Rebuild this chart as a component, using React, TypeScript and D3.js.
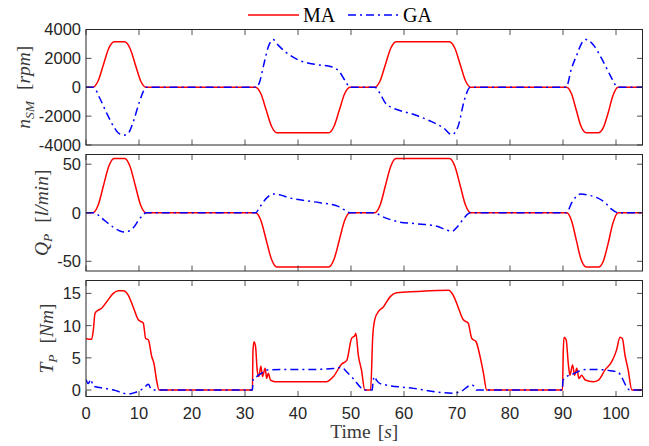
import React from 'react';
import * as d3 from 'd3';

type Pt = [number, number];

const timeTicks = [0, 10, 20, 30, 40, 50, 60, 70, 80, 90, 100];
const speedTicks = [-4000, -2000, 0, 2000, 4000];
const flowTicks = [-50, 0, 50];
const torqueTicks = [0, 5, 10, 15];
const seriesNames = ['MA', 'GA'];

const maSpeed: Pt[] = [
  [0, 0], [1.3, 0], [2.3, 450], [3.3, 1580], [4.3, 2700], [5.3, 3150], [7.3, 3150], [8.3, 2700], [9.3, 1580], [10.3, 450], [11.3, 0],
  [32.0, 0], [33.0, -450], [34.0, -1580], [35.0, -2700], [36.0, -3150], [45.8, -3150], [46.8, -2700], [47.8, -1580], [48.8, -450], [49.8, 0],
  [54.5, 0], [55.5, 450], [56.5, 1580], [57.5, 2700], [58.5, 3150], [68.6, 3150], [69.6, 2700], [70.6, 1580], [71.6, 450], [72.6, 0],
  [90.7, 0], [91.6, -450], [92.5, -1580], [93.4, -2700], [94.4, -3150], [96.7, -3150], [97.6, -2800], [98.5, -1800], [99.4, -600], [100.4, 0], [105, 0],
];
const gaSpeed: Pt[] = [
  [0, 0], [1.4, 0], [2.6, -760], [3.9, -1790], [5.2, -2710], [6.1, -3170], [7.2, -3320], [8.0, -3170], [9.0, -2300], [10.0, -1100], [10.8, -300], [11.3, 0],
  [32.0, 0], [32.7, 300], [33.5, 1500], [34.4, 2800], [35.3, 3300], [36.3, 2900], [37.6, 2460], [40.0, 1900], [43.1, 1590], [46.3, 1420], [47.8, 1080], [49.0, 390], [49.8, 0],
  [54.5, 0], [55.5, -450], [56.4, -1050], [57.3, -1333], [58.8, -1563], [62.0, -1908], [65.1, -2368], [67.5, -2828], [69.0, -3290], [70.2, -2713], [71.4, -874], [72.5, 0],
  [90.6, 0], [91.6, 1300], [92.6, 2230], [93.5, 3030], [94.3, 3310], [95.7, 2945], [97.3, 1980], [98.9, 830], [100.1, 70], [100.4, 0], [105, 0],
];
const maFlow: Pt[] = [
  [0, 0], [1.3, 0], [2.3, 8], [3.3, 28], [4.3, 48], [5.3, 56], [7.3, 56], [8.3, 48], [9.3, 28], [10.3, 8], [11.3, 0],
  [32.0, 0], [33.0, -8], [34.0, -28], [35.0, -48], [36.0, -56], [45.8, -56], [46.8, -48], [47.8, -28], [48.8, -8], [49.8, 0],
  [54.5, 0], [55.5, 8], [56.5, 28], [57.5, 48], [58.5, 56], [68.6, 56], [69.6, 48], [70.6, 28], [71.6, 8], [72.6, 0],
  [90.7, 0], [91.6, -8], [92.5, -28], [93.4, -48], [94.4, -56], [96.7, -56], [97.6, -50], [98.5, -32], [99.4, -11], [100.4, 0], [105, 0],
];
const gaFlow: Pt[] = [
  [0, 0], [1.4, 0], [2.2, -2], [3.3, -7], [5.2, -15], [6.3, -18.5], [7.2, -19.8], [8.0, -19], [9.0, -15], [10.0, -7], [10.8, -2], [11.3, 0],
  [32.0, 0], [32.9, 6.8], [34.1, 15.3], [35.3, 19.3], [36.5, 18.5], [38.4, 15.3], [43.1, 11.2], [46.3, 8.5], [47.5, 6.8], [48.6, 3.4], [49.8, 0],
  [54.5, 0], [55.7, -3.4], [57.3, -6.8], [58.8, -9.2], [62.0, -11.2], [65.9, -13.6], [68.2, -18], [69.0, -19.3], [70.2, -13.6], [71.4, -5], [72.5, 0],
  [90.6, 0], [91.8, 11.9], [93.3, 19.3], [94.9, 18], [96.5, 15.3], [98.0, 10.2], [99.2, 3.4], [100.4, 0], [105, 0],
];
const maTorque: Pt[] = [
  [0, 8.0], [0.5, 7.9], [1.07, 7.9], [1.38, 9.3], [1.7, 11.9], [2.33, 12.4], [2.96, 12.7], [3.9, 13.7], [5.16, 15.0], [6.1, 15.4], [7.0, 15.4],
  [7.99, 14.7], [8.9, 12.9], [9.87, 10.9], [10.8, 10.4], [11.26, 8.0], [11.76, 7.8], [12.4, 5.2], [12.83, 4.1], [13.3, 1.6], [13.8, 0],
  [31.4, 0], [31.5, 6], [31.7, 7.5], [32.0, 6.7], [32.3, 3.1], [32.6, 2.1], [33.0, 3.7], [33.3, 2.1], [33.8, 3.4], [34.1, 1.8], [34.4, 2.6],
  [34.8, 1.55], [35.7, 1.3], [45.4, 1.3], [46.7, 2.1], [48.2, 4.0], [49.2, 4.6], [50.1, 8.0], [50.75, 8.5], [50.9, 8.8], [51.4, 5.3], [52.0, 3.0],
  [52.6, 0], [53.7, 0], [54.1, 8.3], [54.5, 11.0], [55.2, 12.2], [56.1, 12.9], [57.4, 14.5], [58.6, 15.1], [62.4, 15.3], [68.4, 15.5], [69.3, 14.7],
  [70.2, 12.9], [71.2, 10.9], [72.1, 10.4], [72.8, 8.0], [73.6, 7.5], [74.3, 5.4], [75.0, 2.6], [75.6, 0],
  [89.9, 0], [90.05, 6], [90.2, 8.2], [90.6, 7.8], [91.0, 4.1], [91.3, 2.3], [91.8, 3.9], [92.2, 2.3], [92.6, 3.4], [93.0, 1.8], [93.5, 2.3],
  [94.2, 1.55], [95.7, 1.3], [96.7, 1.55], [97.9, 3.1], [99.2, 4.4], [100.1, 6.2], [100.75, 8.2], [101.2, 8.0], [101.7, 5.4], [102.3, 3.1], [103.0, 0], [105, 0],
];
const gaTorque: Pt[] = [
  [0, 1.65], [0.44, 1.0], [0.88, 1.65], [1.38, 0.6], [2.6, 0.4], [5.2, 0], [8.0, -0.6], [9.2, -0.4], [10.8, 0.25], [11.8, 0.9], [12.2, 0.25], [12.8, 0],
  [31.4, 0], [31.55, 1.8], [32.2, 2.1], [33.1, 2.6], [34.1, 3.1], [37.8, 3.2], [42.9, 3.2], [46.7, 3.35], [48.2, 3.5], [49.2, 2.8], [50.4, 1.8], [51.7, 0.5], [52.3, 0],
  [54.0, 0], [54.15, 1.2], [54.4, 2.1], [54.8, 1.55], [55.5, 1.0], [61.8, 0.26], [69.3, -0.5], [70.6, -0.26], [72.8, 0.8], [73.2, 0.6], [73.7, 0],
  [89.9, 0], [90.0, 1.55], [90.7, 2.1], [91.9, 2.5], [93.2, 3.0], [94.5, 3.2], [96.3, 3.2], [98.9, 3.0], [100.4, 2.8], [101.0, 2.1], [102.0, 0.5], [102.6, 0], [105, 0],
];

const W = 649;
const H = 446;
const LEFT = 86;
const RIGHT = 642.5;
const AXIS_COLOR = '#262626';
const LABEL_COLOR = '#3a3a3a';
const RED = '#ff0000';
const BLUE = '#0000ff';
const DASH = '8,4,2,4';
const SANS = '"Liberation Sans", Arial, Helvetica, sans-serif';
const SERIF = '"Liberation Serif", "Times New Roman", serif';

type LabelPart = { t: string; it?: boolean; sub?: boolean; dx?: number };

interface PanelCfg {
  top: number;
  bottom: number;
  domain: [number, number];
  ticks: number[];
  ma: Pt[];
  ga: Pt[];
  labelX: number;
  label: LabelPart[];
}

const panels: PanelCfg[] = [
  {
    top: 29.5, bottom: 145, domain: [-4000, 4000], ticks: speedTicks, ma: maSpeed, ga: gaSpeed, labelX: 30,
    label: [{ t: 'n', it: true }, { t: 'SM', it: true, sub: true }, { t: '[', dx: 11 }, { t: 'rpm', it: true }, { t: ']' }],
  },
  {
    top: 154.5, bottom: 271, domain: [-60, 60], ticks: flowTicks, ma: maFlow, ga: gaFlow, labelX: 48,
    label: [{ t: 'Q', it: true }, { t: 'P', it: true, sub: true }, { t: '[', dx: 11 }, { t: 'l/min', it: true }, { t: ']' }],
  },
  {
    top: 280.5, bottom: 396.5, domain: [-1, 17], ticks: torqueTicks, ma: maTorque, ga: gaTorque, labelX: 53,
    label: [{ t: 'T', it: true }, { t: 'P', it: true, sub: true }, { t: '[', dx: 11 }, { t: 'Nm', it: true }, { t: ']' }],
  },
];

const x = d3.scaleLinear().domain([0, 105]).range([LEFT, RIGHT]);

function YLabel({ parts, cx, cy }: { parts: LabelPart[]; cx: number; cy: number }) {
  let shift = 0;
  return (
    <text
      transform={`translate(${cx},${cy}) rotate(-90)`}
      textAnchor="middle"
      fontFamily={SERIF}
      fontSize={19.5}
      fill={LABEL_COLOR}
    >
      {parts.map((p, i) => {
        let dy = 0;
        if (p.sub && shift === 0) { dy = 4; shift = 4; }
        else if (!p.sub && shift !== 0) { dy = -shift; shift = 0; }
        return (
          <tspan key={i} fontStyle={p.it ? 'italic' : 'normal'} fontSize={p.sub ? 13.5 : 19.5} dy={dy} dx={p.dx ?? 0}>
            {p.t}
          </tspan>
        );
      })}
    </text>
  );
}

function Panel({ cfg, idx, last }: { cfg: PanelCfg; idx: number; last: boolean }) {
  const y = d3.scaleLinear().domain(cfg.domain).range([cfg.bottom, cfg.top]);
  const line = d3
    .line<Pt>()
    .x((d) => x(d[0]))
    .y((d) => y(d[1]))
    .curve(d3.curveMonotoneX);
  const clipId = `clip-${idx}`;
  const tl = 5.5;
  return (
    <g>
      <defs>
        <clipPath id={clipId}>
          <rect x={LEFT} y={cfg.top} width={RIGHT - LEFT} height={cfg.bottom - cfg.top} />
        </clipPath>
      </defs>
      <rect x={LEFT} y={cfg.top} width={RIGHT - LEFT} height={cfg.bottom - cfg.top} fill="#fff" />
      <g clipPath={`url(#${clipId})`}>
        <path d={line(cfg.ma) ?? ''} fill="none" stroke={RED} strokeWidth={1.5} strokeLinejoin="round" />
        <path d={line(cfg.ga) ?? ''} fill="none" stroke={BLUE} strokeWidth={1.5} strokeDasharray={DASH} strokeLinejoin="round" />
      </g>
      {timeTicks.map((t) => (
        <g key={`xt${t}`}>
          <line x1={x(t)} x2={x(t)} y1={cfg.bottom} y2={cfg.bottom - tl} stroke={AXIS_COLOR} strokeWidth={0.8} />
          <line x1={x(t)} x2={x(t)} y1={cfg.top} y2={cfg.top + tl} stroke={AXIS_COLOR} strokeWidth={0.8} />
          {last && (
            <text x={x(t)} y={cfg.bottom + 22} textAnchor="middle" fontFamily={SANS} fontSize={16.5} fill={AXIS_COLOR}>
              {t}
            </text>
          )}
        </g>
      ))}
      {cfg.ticks.map((v) => (
        <g key={`yt${v}`}>
          <line x1={LEFT} x2={LEFT + tl} y1={y(v)} y2={y(v)} stroke={AXIS_COLOR} strokeWidth={0.8} />
          <line x1={RIGHT} x2={RIGHT - tl} y1={y(v)} y2={y(v)} stroke={AXIS_COLOR} strokeWidth={0.8} />
          <text x={LEFT - 5} y={y(v)} dy="0.36em" textAnchor="end" fontFamily={SANS} fontSize={16.5} fill={AXIS_COLOR}>
            {v}
          </text>
        </g>
      ))}
      <rect x={LEFT} y={cfg.top} width={RIGHT - LEFT} height={cfg.bottom - cfg.top} fill="none" stroke={AXIS_COLOR} strokeWidth={1} />
      <YLabel parts={cfg.label} cx={cfg.labelX} cy={(cfg.top + cfg.bottom) / 2} />
    </g>
  );
}

export default function App() {
  return (
    <svg width={W} height={H} viewBox={`0 0 ${W} ${H}`} style={{ position: 'absolute', left: 0, top: 0, background: '#fff' }}>
      <rect x={0} y={0} width={W} height={H} fill="#fff" />
      {panels.map((p, i) => (
        <Panel key={i} cfg={p} idx={i} last={i === panels.length - 1} />
      ))}
      <text x={(LEFT + RIGHT) / 2} y={438} textAnchor="middle" fontFamily={SERIF} fontSize={19.5} fill={LABEL_COLOR}>
        Time<tspan dx={7}>[</tspan>
        <tspan fontStyle="italic">s</tspan>]
      </text>
      <g>
        <line x1={248} x2={299} y1={15} y2={15} stroke={RED} strokeWidth={1.5} />
        <text x={303} y={21.5} fontFamily={SERIF} fontSize={20} fill="#000">{seriesNames[0]}</text>
        <line x1={348} x2={398} y1={15} y2={15} stroke={BLUE} strokeWidth={1.5} strokeDasharray={DASH} />
        <text x={403} y={21.5} fontFamily={SERIF} fontSize={20} fill="#000">{seriesNames[1]}</text>
      </g>
    </svg>
  );
}
